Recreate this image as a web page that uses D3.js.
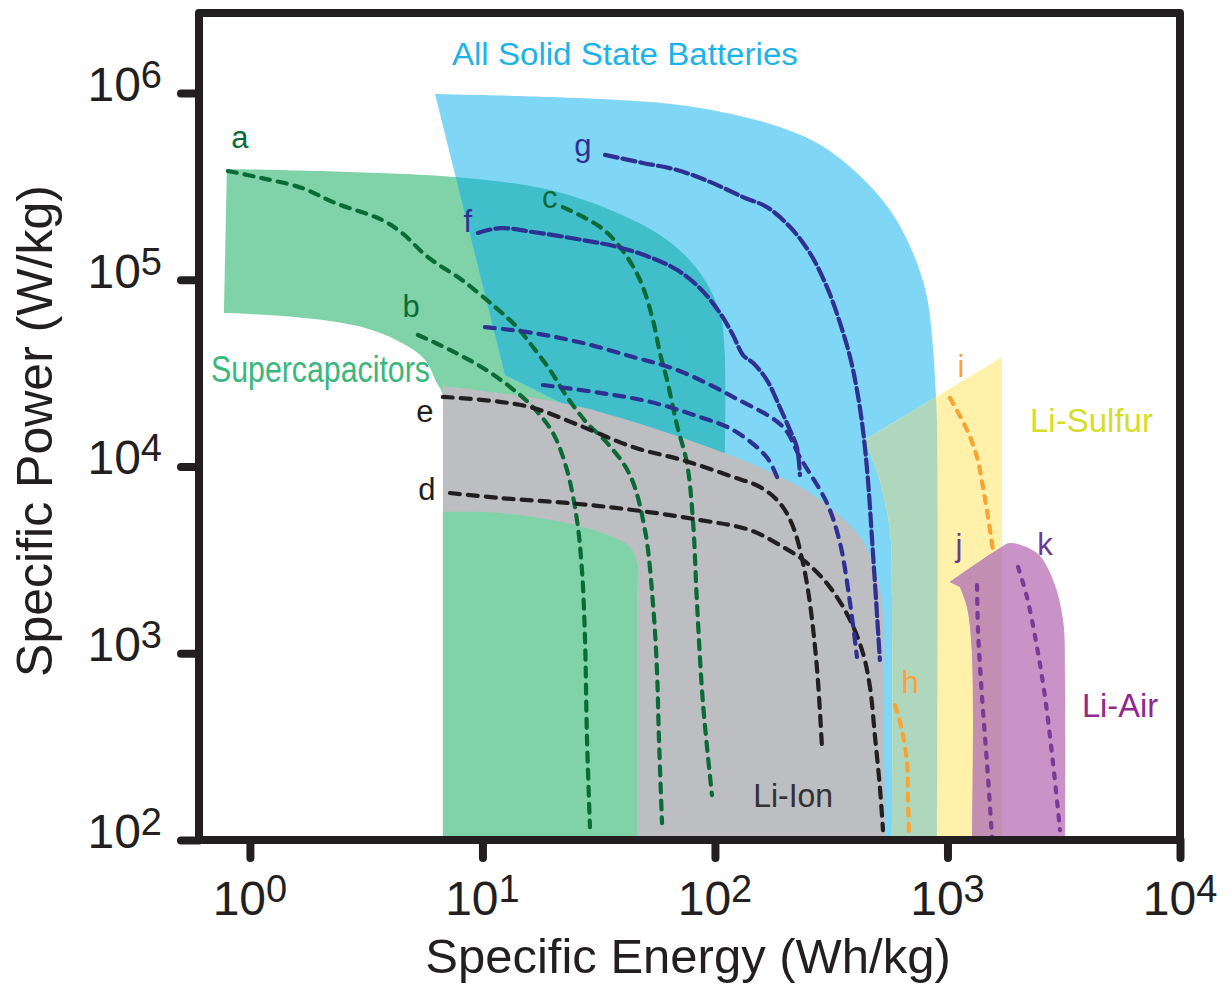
<!DOCTYPE html>
<html>
<head>
<meta charset="utf-8">
<script src="https://cdn.jsdelivr.net/npm/d3@7"></script>
<style>
  body { margin: 0; background: #fff; }
  svg { display: block; font-family: "Liberation Sans", Arial, sans-serif; }
</style>
</head>
<body>
<div id="chart"></div>
<script>
// Ragone plot: specific energy (Wh/kg) vs specific power (W/kg)
// region outlines: [energy, power, corner?]  (corner = 1 keeps a sharp edge)
var energyTicks = [1, 10, 100, 1000, 10000];
var powerTicks = [100, 1000, 10000, 100000, 1000000];

var superCapRegion = [
  [0.796, 3.92e5, 1], [7.61, 3.55e5], [19.5, 3.02e5], [37.9, 2.28e5], [62.2, 1.63e5],
  [86.2, 1.09e5], [105, 6.64e4], [110, 4.21e4], [110, 9.58e3, 1], [7.25, 9.58e3, 1],
  [6.76, 2.42e4], [6.37, 2.80e4], [5.66, 3.72e4], [4.51, 4.58e4], [3.03, 5.58e4],
  [1.56, 6.32e4], [0.773, 6.64e4, 1]
];
var superCapLowRegion = [
  [6.76, 5.71e3, 1], [11.89, 5.64e3], [23.1, 4.98e3], [36.4, 4.19e3], [43.1, 3.71e3],
  [46.2, 3.04e3], [46.2, 1.93e3], [46.2, 100, 1], [6.76, 100, 1]
];
var solidStateRegion = [
  [6.25, 9.88e5, 1], [19.5, 9.52e5], [52.5, 8.95e5], [86.2, 8.31e5], [167, 6.91e5],
  [275, 5.40e5], [408, 3.73e5], [566, 2.36e5], [711, 1.39e5], [816, 8.09e4],
  [866, 4.36e4], [884, 2.91e4], [901, 1.77e4], [901, 100, 1], [232, 100, 1],
  [232, 5.17e3, 1], [86.2, 9.58e3], [29.0, 1.84e4], [12.5, 3.09e4, 1]
];
var liIonRegion = [
  [6.76, 2.70e4, 1], [16.49, 2.33e4], [32.0, 1.96e4], [110, 1.18e4], [232, 7.77e3],
  [322, 5.85e3], [421, 4.19e3], [478, 3.04e3], [523, 1.86e3], [528, 814],
  [533, 303], [539, 100, 1], [6.76, 100, 1]
];
var liSulfurRegion = [
  [442, 1.39e4, 1], [1716, 3.86e4, 1], [1716, 100, 1], [577, 100, 1],
  [577, 2.00e3], [566, 4.57e3], [512, 8.47e3]
];
var liAirRegion = [
  [1025, 2.41e3, 1], [1683, 3.66e3], [1857, 3.89e3], [2426, 3.44e3], [2844, 2.47e3],
  [3140, 1.51e3], [3203, 719], [3203, 100, 1], [1275, 100, 1], [1275, 1.00e3],
  [1213, 1.77e3], [1132, 2.26e3]
];

// discharge curves [energy, power]
var curveA = [[0.804, 3.82e5], [1.126, 3.50e5], [1.674, 3.10e5], [2.32, 2.58e5], [3.70, 2.09e5],
  [4.51, 1.78e5], [5.83, 1.32e5], [8.16, 9.97e4], [11.32, 7.15e4], [14.07, 5.58e4],
  [16.49, 4.36e4], [19.51, 3.29e4], [23.09, 2.36e4], [28.15, 1.71e4], [34.32, 1.34e4],
  [43.1, 9.00e3], [50.0, 4.57e3], [54.1, 1.86e3], [56.3, 814], [57.4, 356], [59.2, 123]];
var curveB = [[5.28, 5.06e4], [7.25, 4.21e4], [10.05, 3.37e4], [13.13, 2.67e4], [16.49, 2.08e4],
  [20.1, 1.51e4], [23.09, 9.58e3], [25.5, 5.17e3], [26.79, 2.79e3], [27.6, 1.22e3],
  [28.15, 356], [29.0, 117]];
var curveC = [[22.19, 2.45e5], [32.0, 1.92e5], [39.0, 1.50e5], [47.6, 9.97e4], [54.1, 6.09e4],
  [58.0, 4.05e4], [62.2, 2.91e4], [68.6, 1.67e4], [75.8, 1.04e4], [80.4, 5.17e3],
  [83.7, 1.86e3], [88.8, 541], [97.1, 174]];
var curveD = [[7.25, 7.21e3], [11.89, 6.78e3], [23.09, 6.38e3], [44.4, 5.85e3], [86.2, 5.17e3],
  [141, 4.57e3], [196, 3.71e3], [249, 3.04e3], [312, 2.26e3], [381, 1.51e3],
  [433, 1.00e3], [464, 660], [488, 356], [512, 192], [528, 113]];
var curveE = [[6.76, 2.36e4], [11.89, 2.22e4], [16.49, 2.06e4], [27.05, 1.63e4], [44.4, 1.27e4],
  [72.8, 1.08e4], [119.5, 8.79e3], [156, 7.77e3], [190, 6.38e3], [217, 4.74e3],
  [239, 3.04e3], [256, 1.86e3], [275, 814], [289, 303]];
var curveF = [[9.56, 1.78e5], [11.89, 1.89e5], [16.49, 1.80e5], [27.05, 1.63e5], [37.9, 1.50e5],
  [52.5, 1.32e5], [68.6, 1.13e5], [86.2, 9.0e4], [105, 6.64e4], [119.5, 5.06e4],
  [132, 3.95e4], [146, 3.58e4], [167, 2.91e4], [190, 2.08e4], [210, 1.57e4],
  [225, 1.27e4], [232, 9.00e3]];
var curveF2 = [[10.25, 5.58e4], [16.49, 5.19e4], [27.05, 4.58e4], [44.4, 3.86e4], [68.6, 3.29e4],
  [119.5, 2.36e4], [196, 1.63e4], [232, 1.12e4], [303, 6.38e3], [345, 3.89e3],
  [381, 1.86e3], [408, 955]];
var curveF3 = [[18.2, 2.73e4], [32.0, 2.48e4], [52.5, 2.22e4], [86.2, 1.84e4], [119.5, 1.57e4],
  [167, 1.12e4], [187, 8.47e3]];
var curveG = [[33.65, 4.66e5], [49.0, 4.22e5], [68.6, 3.87e5], [95.2, 3.34e5], [132, 2.77e5],
  [167, 2.45e5], [210, 1.92e5], [256, 1.39e5], [303, 9.15e4], [345, 5.87e4],
  [381, 3.86e4], [408, 2.57e4], [433, 1.57e4], [455, 8.47e3], [474, 4.04e3],
  [493, 1.93e3], [512, 920]];
var curveH = [[595, 528], [637, 388], [670, 258], [676, 170], [683, 106]];
var curveI = [[1025, 2.33e4], [1213, 1.57e4], [1340, 1.12e4], [1421, 7.77e3], [1494, 5.37e3], [1569, 3.57e3]];
var curveJ = [[1340, 2.32e3], [1353, 1.33e3], [1408, 583], [1479, 258], [1554, 104]];
var curveK = [[2010, 2.90e3], [2197, 2.00e3], [2426, 1.08e3], [2627, 583], [2844, 258], [3048, 113]];

// curve letters and where they sit [energy, power]
var curveNames = ['a', 'b', 'c', 'd', 'e', 'f', 'g', 'h', 'i', 'j', 'k'];
var curveNameAt = [[0.906, 5.08e5], [4.93, 6.32e4], [19.5, 2.42e5], [5.77, 6.62e3], [5.66, 1.73e4],
  [8.66, 1.80e5], [27.05, 4.60e5], [690, 613], [1143, 3.02e4], [1121, 3.32e3], [2627, 3.36e3]];

// region names and the start of their text [energy, power]
var regionNames = ['Supercapacitors', 'All Solid State Batteries', 'Li-Ion', 'Li-Sulfur', 'Li-Air'];
var regionNameAt = [[0.68, 2.84e4], [7.39, 1.41e6], [146, 150], [2264, 1.53e4], [3789, 456]];

(function () {
  'use strict';
  var width = 1231;
  var height = 986;
  var plot = { left: 199, right: 1180, top: 13, bottom: 840 };
  var ink = '#231f20';

  var x = d3.scaleLog().domain([0.604, 10000]).range([plot.left, plot.right]);
  var y = d3.scaleLog().domain([100, 2.68e6]).range([plot.bottom, plot.top]);

  var svg = d3.select('#chart').append('svg')
    .attr('width', width)
    .attr('height', height);

  // duplicate corner points so the Catmull-Rom curve keeps a sharp edge there
  function expand(points) {
    var out = [];
    points.forEach(function (p) {
      out.push(p);
      if (p[2]) { out.push(p); }
    });
    return out;
  }
  var line = d3.line()
    .x(function (d) { return x(d[0]); })
    .y(function (d) { return y(d[1]); })
    .curve(d3.curveCatmullRom.alpha(0.5));
  function regionPath(points) { return line(expand(points)) + 'Z'; }

  var defs = svg.append('defs');
  defs.append('clipPath').attr('id', 'clip-plot')
    .append('rect')
    .attr('x', plot.left).attr('y', plot.top)
    .attr('width', plot.right - plot.left).attr('height', plot.bottom - plot.top);
  defs.append('clipPath').attr('id', 'clip-solid')
    .append('path').attr('d', regionPath(solidStateRegion));
  defs.append('clipPath').attr('id', 'clip-sulfur')
    .append('path').attr('d', regionPath(liSulfurRegion));

  // regions
  var regions = svg.append('g').attr('clip-path', 'url(#clip-plot)');
  regions.append('path').attr('d', regionPath(superCapRegion)).style('fill', '#80d3a8');
  regions.append('path').attr('d', regionPath(solidStateRegion)).style('fill', '#80d6f5');
  regions.append('g').attr('clip-path', 'url(#clip-solid)')
    .append('path').attr('d', regionPath(superCapRegion)).style('fill', '#40bfcb');
  regions.append('path').attr('d', regionPath(liIonRegion)).style('fill', '#bdbec1');
  regions.append('path').attr('d', regionPath(superCapLowRegion)).style('fill', '#80d3a8');
  regions.append('path').attr('d', regionPath(liSulfurRegion)).style('fill', '#fff1a9');
  regions.append('g').attr('clip-path', 'url(#clip-solid)')
    .append('path').attr('d', regionPath(liSulfurRegion)).style('fill', '#afd7be');
  regions.append('path').attr('d', regionPath(liAirRegion)).style('fill', '#c993c7');
  regions.append('g').attr('clip-path', 'url(#clip-sulfur)')
    .append('path').attr('d', regionPath(liAirRegion)).style('fill', '#c28eb1');

  // dashed discharge curves
  var green = '#0b6b37', black = ink, blue = '#2e3192', orange = '#f8a432', purple = '#7a3b98';
  var curves = [
    { pts: curveA, color: green, dash: '9,8' },
    { pts: curveB, color: green, dash: '9,8' },
    { pts: curveC, color: green, dash: '9,8' },
    { pts: curveD, color: black, dash: '10,8' },
    { pts: curveE, color: black, dash: '10,8' },
    { pts: curveF, color: blue, dash: '13,5' },
    { pts: curveF2, color: blue, dash: '10,8' },
    { pts: curveF3, color: blue, dash: '10,8' },
    { pts: curveG, color: blue, dash: '13,5' },
    { pts: curveH, color: orange, dash: '7,8' },
    { pts: curveI, color: orange, dash: '7,8' },
    { pts: curveJ, color: purple, dash: '5,9' },
    { pts: curveK, color: purple, dash: '5,9' }
  ];
  svg.append('g').attr('class', 'curves')
    .selectAll('path')
    .data(curves)
    .enter()
    .append('path')
    .attr('d', function (d) { return line(d.pts); })
    .style('fill', 'none')
    .style('stroke', function (d) { return d.color; })
    .style('stroke-width', 4.2)
    .style('stroke-linecap', 'round')
    .style('stroke-dasharray', function (d) { return d.dash; });

  // curve letters
  var letterColors = [green, green, green, black, black, blue, blue, orange, orange, '#6d3a92', '#6d3a92'];
  svg.append('g').selectAll('text')
    .data(curveNames)
    .enter()
    .append('text')
    .attr('x', function (d, i) { return x(curveNameAt[i][0]); })
    .attr('y', function (d, i) { return y(curveNameAt[i][1]); })
    .attr('text-anchor', 'middle')
    .style('font-size', '31px')
    .style('fill', function (d, i) { return letterColors[i]; })
    .text(function (d) { return d; });

  // region names
  var regionStyle = [
    { color: '#3ab77c', size: 36, len: 219, family: '"Liberation Sans Narrow", "Liberation Sans", Arial' },
    { color: '#1cb2ea', size: 31, len: 346 },
    { color: '#333133', size: 33, len: 80 },
    { color: '#d5dd26', size: 34, len: 123 },
    { color: '#92278f', size: 34, len: 76 }
  ];
  svg.append('g').selectAll('text')
    .data(regionNames)
    .enter()
    .append('text')
    .attr('x', function (d, i) { return x(regionNameAt[i][0]); })
    .attr('y', function (d, i) { return y(regionNameAt[i][1]); })
    .attr('textLength', function (d, i) { return regionStyle[i].len; })
    .attr('lengthAdjust', 'spacingAndGlyphs')
    .style('font-size', function (d, i) { return regionStyle[i].size + 'px'; })
    .style('font-family', function (d, i) { return regionStyle[i].family || null; })
    .style('fill', function (d, i) { return regionStyle[i].color; })
    .text(function (d) { return d; });

  // axes: ticks only, labels drawn as 10 with superscript
  var yAxis = svg.append('g')
    .attr('transform', 'translate(' + plot.left + ',0)')
    .call(d3.axisLeft(y).tickValues(powerTicks).tickSize(18).tickFormat(''));
  var xAxis = svg.append('g')
    .attr('transform', 'translate(0,' + plot.bottom + ')')
    .call(d3.axisBottom(x).tickValues(energyTicks).tickSize(18).tickFormat(''));
  [xAxis, yAxis].forEach(function (ax) {
    ax.select('.domain').remove();
    ax.selectAll('.tick line')
      .style('stroke', ink)
      .style('stroke-width', 8)
      .style('stroke-linecap', 'round');
  });

  var yLabels = svg.append('g').selectAll('text')
    .data(powerTicks)
    .enter()
    .append('text')
    .attr('x', 162)
    .attr('y', function (d) { return y(d) + 8; })
    .attr('text-anchor', 'end')
    .style('font-size', '48px')
    .style('fill', ink);
  yLabels.append('tspan').text('10');
  yLabels.append('tspan').attr('dy', -13).style('font-size', '38px')
    .text(function (d) { return Math.round(Math.log10(d)); });

  var xLabels = svg.append('g').selectAll('text')
    .data(energyTicks)
    .enter()
    .append('text')
    .attr('x', function (d) { return x(d); })
    .attr('y', 915)
    .attr('text-anchor', 'middle')
    .style('font-size', '48px')
    .style('fill', ink);
  xLabels.append('tspan').text('10');
  xLabels.append('tspan').attr('dy', -13).style('font-size', '38px')
    .text(function (d) { return Math.round(Math.log10(d)); });

  // frame
  svg.append('rect')
    .attr('x', plot.left).attr('y', plot.top)
    .attr('width', plot.right - plot.left).attr('height', plot.bottom - plot.top)
    .style('fill', 'none')
    .style('stroke', ink)
    .style('stroke-width', 8)
    .style('stroke-linejoin', 'round');

  // axis titles
  svg.append('text')
    .attr('x', 688).attr('y', 973)
    .attr('text-anchor', 'middle')
    .style('font-size', '49px')
    .style('fill', ink)
    .text('Specific Energy (Wh/kg)');
  svg.append('text')
    .attr('transform', 'translate(52,431) rotate(-90)')
    .attr('text-anchor', 'middle')
    .style('font-size', '50px')
    .style('fill', ink)
    .text('Specific Power (W/kg)');
})();
</script>
</body>
</html>
